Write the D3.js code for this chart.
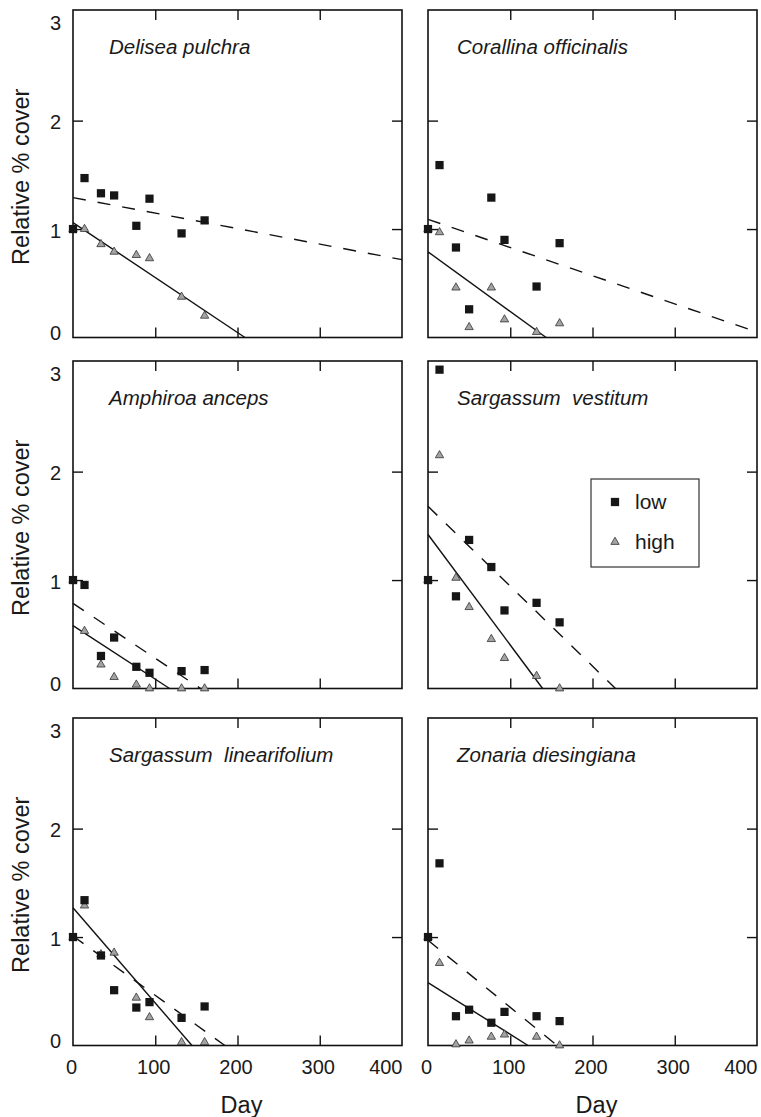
<!DOCTYPE html>
<html>
<head>
<meta charset="utf-8">
<script src="https://cdn.jsdelivr.net/npm/d3@7"></script>
<style>
  body { margin: 0; background: #fff; }
  svg { display: block; font-family: "Liberation Sans", Arial, Helvetica, sans-serif; }
</style>
</head>
<body>
<div id="chart"></div>
<script>
// sampling days (same for every species)
const days = [0, 14, 34, 50, 77, 93, 132, 160];

const species = [
  "Delisea pulchra", "Corallina officinalis",
  "Amphiroa anceps", "Sargassum  vestitum",
  "Sargassum  linearifolium", "Zonaria diesingiana"
];

// relative % cover, low treatment (squares)
const lowCover = [
  [1.0, 1.47, 1.33, 1.31, 1.03, 1.28, 0.96, 1.08],
  [1.0, 1.59, 0.83, 0.26, 1.29, 0.90, 0.47, 0.87],
  [1.0, 0.955, 0.30, 0.47, 0.20, 0.145, 0.16, 0.17],
  [1.0, 2.94, 0.85, 1.37, 1.12, 0.72, 0.79, 0.61],
  [1.0, 1.34, 0.83, 0.51, 0.35, 0.40, 0.255, 0.36],
  [1.0, 1.68, 0.27, 0.33, 0.21, 0.31, 0.27, 0.225]
];

// relative % cover, high treatment (triangles)
const highCover = [
  [1.0, 1.0, 0.86, 0.79, 0.76, 0.73, 0.375, 0.2],
  [1.0, 0.97, 0.46, 0.095, 0.46, 0.166, 0.05, 0.13],
  [1.0, 0.53, 0.22, 0.105, 0.035, 0.0, 0.0, 0.0],
  [1.0, 2.15, 1.02, 0.75, 0.455, 0.28, 0.115, 0.0],
  [1.0, 1.29, 0.84, 0.855, 0.44, 0.26, 0.03, 0.03],
  [1.0, 0.76, 0.01, 0.045, 0.08, 0.10, 0.08, 0.0]
];

// regression lines: [intercept, slope per day]
const lowFit = [
  [1.29, -0.00143], [1.09, -0.0026], [0.785, -0.00506],
  [1.68, -0.00737], [1.01, -0.00547], [0.97, -0.00618]
];
const highFit = [
  [1.06, -0.00507], [0.79, -0.0055], [0.58, -0.00494],
  [1.42, -0.01019], [1.27, -0.00878], [0.58, -0.00477]
];

const xTicks = [0, 100, 200, 300, 400];
const yTicks = [0, 1, 2, 3];
const legendLabels = ["low", "high"];

const width = 761, height = 1117;
const colX = [73, 428];
const rowY = [10, 361, 718];
const pw = 329, ph = 327.5;

const svg = d3.select("#chart")
  .append("svg")
  .attr("width", width)
  .attr("height", height);

const x = d3.scaleLinear().domain([0, 400]).range([0, pw]);
const y = d3.scaleLinear().domain([0, 3.02]).range([ph, 0]);

const square = d3.symbol().type(d3.symbolSquare).size(68);
const triangle = d3.symbol().type(d3.symbolTriangle).size(30);

species.forEach((name, i) => {
  const col = i % 2, row = Math.floor(i / 2);
  const g = svg.append("g")
    .attr("transform", `translate(${colX[col]}, ${rowY[row]})`);

  // inward ticks on all four sides
  const inner = [100, 200, 300];
  g.append("g").attr("transform", `translate(0, ${ph})`)
    .call(d3.axisBottom(x).tickValues(inner).tickSize(-10).tickFormat(""));
  g.append("g")
    .call(d3.axisTop(x).tickValues(inner).tickSize(-10).tickFormat(""));
  g.append("g")
    .call(d3.axisLeft(y).tickValues([1, 2]).tickSize(-10).tickFormat(""));
  g.append("g").attr("transform", `translate(${pw}, 0)`)
    .call(d3.axisRight(y).tickValues([1, 2]).tickSize(-10).tickFormat(""));
  g.selectAll(".domain").remove();
  g.selectAll(".tick line").attr("stroke", "#111").attr("stroke-width", 1.4);

  g.append("rect")
    .attr("width", pw)
    .attr("height", ph)
    .attr("fill", "none")
    .attr("stroke", "#111")
    .attr("stroke-width", 1.6);

  // y tick labels on the left column
  if (col === 0) {
    const ya = g.append("g")
      .call(d3.axisLeft(y).tickValues(yTicks).tickSize(0).tickPadding(12)
        .tickFormat(d3.format("d")));
    ya.select(".domain").remove();
    ya.selectAll("text")
      .style("font-size", "20px")
      .style("fill", "#1a1a1a")
      .attr("dy", d => d === 3 ? "0.85em" : d === 0 ? "0.1em" : "0.4em");

    g.append("text")
      .attr("transform", `translate(-44, ${ph / 2 + 3}) rotate(-90)`)
      .attr("text-anchor", "middle")
      .style("font-size", "23.5px")
      .style("fill", "#1a1a1a")
      .text("Relative % cover");
  }

  // x tick labels on the bottom row
  if (row === 2) {
    const xa = g.append("g")
      .attr("transform", `translate(0, ${ph})`)
      .call(d3.axisBottom(x).tickValues(xTicks).tickSize(0).tickPadding(14));
    xa.select(".domain").remove();
    xa.selectAll("text")
      .style("font-size", "20px")
      .style("fill", "#1a1a1a")
      .attr("x", d => d === 400 ? 0 : -2)
      .attr("text-anchor", d => d === 400 ? "end" : "middle");

    g.append("text")
      .attr("x", pw / 2 + 4)
      .attr("y", ph + 67)
      .attr("text-anchor", "middle")
      .style("font-size", "23.5px")
      .style("fill", "#1a1a1a")
      .text("Day");
  }

  g.append("text")
    .attr("x", col === 0 ? 36 : 29)
    .attr("y", 44)
    .style("font-size", "20.5px")
    .style("font-style", "italic")
    .style("white-space", "pre")
    .style("fill", "#1a1a1a")
    .text(name);

  // fitted lines, stopped where they reach zero
  const fitLine = ([a, b]) => {
    const end = Math.min(400, -a / b);
    return [[0, a], [end, a + b * end]];
  };
  const line = d3.line().x(d => x(d[0])).y(d => y(d[1]));

  g.append("path")
    .attr("d", line(fitLine(lowFit[i])))
    .attr("fill", "none")
    .attr("stroke", "#111")
    .attr("stroke-width", 1.4)
    .attr("stroke-dasharray", "13,12");

  g.append("path")
    .attr("d", line(fitLine(highFit[i])))
    .attr("fill", "none")
    .attr("stroke", "#111")
    .attr("stroke-width", 1.4);

  g.selectAll(".high")
    .data(highCover[i])
    .enter()
    .append("path")
    .attr("class", "high")
    .attr("transform", (d, j) => `translate(${x(days[j])}, ${y(d)})`)
    .attr("d", triangle)
    .attr("fill", "#a3a3a3")
    .attr("stroke", "#333")
    .attr("stroke-width", 0.8);

  g.selectAll(".low")
    .data(lowCover[i])
    .enter()
    .append("path")
    .attr("class", "low")
    .attr("transform", (d, j) => `translate(${x(days[j])}, ${y(d)})`)
    .attr("d", square)
    .attr("fill", "#161616");

  // legend sits in the Sargassum vestitum panel
  if (i === 3) {
    const lg = g.append("g").attr("transform", "translate(163, 118)");
    lg.append("rect")
      .attr("width", 108)
      .attr("height", 88)
      .attr("fill", "#fff")
      .attr("stroke", "#333")
      .attr("stroke-width", 1.2);
    legendLabels.forEach((lab, k) => {
      lg.append("path")
        .attr("transform", `translate(24, ${23 + k * 40})`)
        .attr("d", k === 0 ? square : triangle)
        .attr("fill", k === 0 ? "#161616" : "#a3a3a3")
        .attr("stroke", k === 0 ? "none" : "#333")
        .attr("stroke-width", 0.8);
      lg.append("text")
        .attr("x", 44)
        .attr("y", 30 + k * 40)
        .style("font-size", "21px")
        .style("fill", "#1a1a1a")
        .text(lab);
    });
  }
});
</script>
</body>
</html>
